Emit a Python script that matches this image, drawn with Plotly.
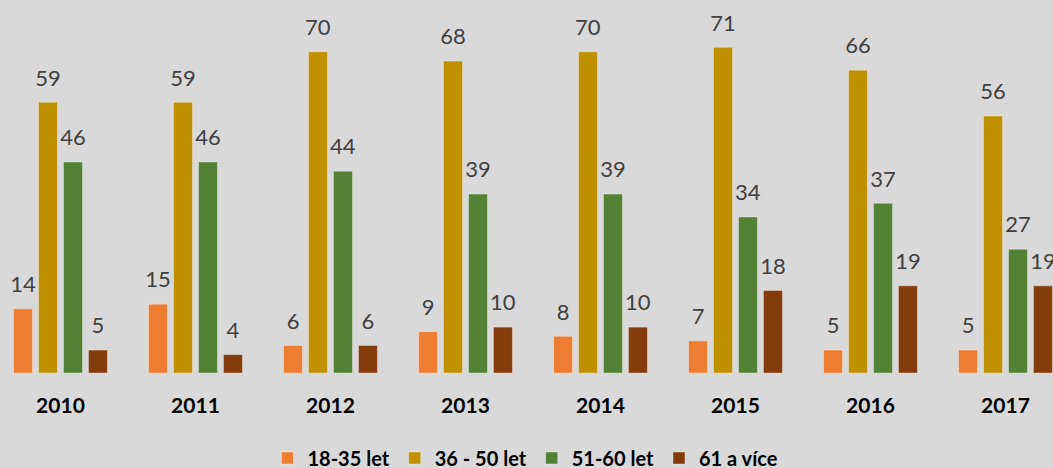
import plotly.graph_objects as go

years = ["2010", "2011", "2012", "2013", "2014", "2015", "2016", "2017"]
series_names = ["18-35 let", "36 - 50 let", "51-60 let", "61 a více"]
age_18_35 = [14, 15, 6, 9, 8, 7, 5, 5]
age_36_50 = [59, 59, 70, 68, 70, 71, 66, 56]
age_51_60 = [46, 46, 44, 39, 39, 34, 37, 27]
age_61_up = [5, 4, 6, 10, 10, 18, 19, 19]

colors = ["#ED7D31", "#BF9000", "#548235", "#843C0C"]
FONT = "Lato, 'Open Sans', sans-serif"

fig = go.Figure()
for name, vals, col in zip(series_names, [age_18_35, age_36_50, age_51_60, age_61_up], colors):
    fig.add_trace(go.Bar(
        x=years, y=vals, name=name,
        marker=dict(color=col, line=dict(color="rgba(255,255,255,0.35)", width=1)),
        # blank second line lifts the label off the bar like Excel does
        text=[f"<span style='font-size:22px'>{v}</span><br> " for v in vals],
        textposition="outside", cliponaxis=False, constraintext="none",
        textfont=dict(family=FONT, size=9, color="#404040"),
    ))

fig.update_layout(
    width=1053, height=468,
    barmode="group", bargap=0.26, bargroupgap=0.24,
    paper_bgcolor="#D9D9D9", plot_bgcolor="#D9D9D9",
    margin=dict(l=0, r=0, t=0, b=95, autoexpand=False),
    font=dict(family=FONT),
    showlegend=True,
    legend=dict(
        orientation="h", x=0.499, xanchor="center", y=-0.228, yanchor="middle",
        font=dict(family=FONT, size=20, color="#000000", weight="bold"),
        itemwidth=30, traceorder="normal",
    ),
)
fig.update_xaxes(
    range=[-0.448, 7.352], showgrid=False, showline=False, ticks="",
    tickfont=dict(family=FONT, size=21, color="#000000", weight="bold"),
    ticklabelstandoff=18, automargin=False,
)
fig.update_yaxes(range=[0, 81.3], visible=False, showgrid=False)

fig.write_html("out.html", config={"displayModeBar": False},
               post_script="document.body.style.margin='0';")
